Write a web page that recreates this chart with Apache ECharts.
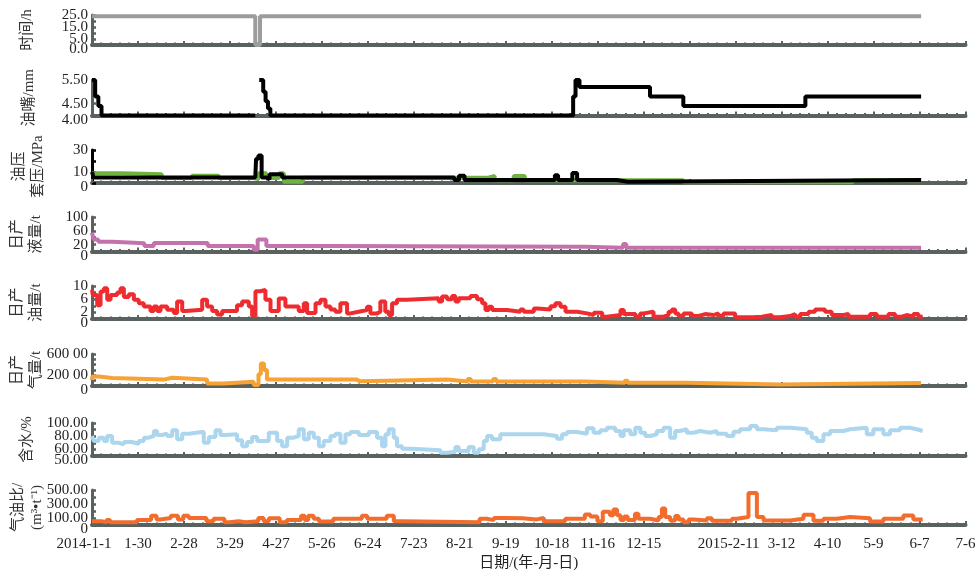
<!DOCTYPE html>
<html><head><meta charset="utf-8">
<script src="https://cdn.jsdelivr.net/npm/echarts@6/dist/echarts.min.js"></script>
<style>html,body{margin:0;padding:0;background:#fff}#c{width:980px;height:572px}</style>
</head><body><div id="c"></div>
<script>
// ---- x axis: day index from 2014-1-1, ticks every 29 days ----
const xTickLabels = ['2014-1-1','1-30','2-28','3-29','4-27','5-26','6-24','7-23','8-21','9-19','10-18','11-16','12-15','','2015-2-11','3-12','4-10','5-9','6-7','7-6'];
const xTitle = '日期/(年-月-日)';

// ---- y tick labels per panel ----
const hoursTicks = [[0,'0.0'],[5,'5.0'],[15,'15.0'],[25,'25.0']];
const chokeTicks = [[4,'4.00'],[4.5,'4.50'],[5.5,'5.50']];
const pressTicks = [[0,'0'],[10,'10'],[30,'30']];
const liquidTicks = [[0,'0'],[20,'20'],[60,'60'],[100,'100']];
const oilTicks = [[0,'0'],[2,'2'],[6,'6'],[10,'10']];
const gasTicks = [[0,'0'],[20000,'200 00'],[60000,'600 00']];
const waterTicks = [[50,'50.00'],[60,'60.00'],[80,'80.00'],[100,'100.00']];
const gorTicks = [[0,'0'],[100,'100.00'],[300,'300.00'],[500,'500.00']];

// ---- series values: [day, value] (step lines) ----
const hours = [[0,24],[103,0],[106,24],[523,24]];
const choke = [[0,5.5],[2,4.8],[4,4.4],[6,4.0],[103,4.0],[103.1,null],[105.5,5.5],[108,5.0],[109.5,4.6],[111,4.3],[112.5,4.0],[303.5,4.8],[305,5.5],[307.5,5.2],[352,4.8],[373,4.4],[450,4.8],[523,4.8]];
const tubingP = [[0,10],[1,5],[103,5],[103.5,22],[105,25],[107,5],[110,3.5],[112,8],[120,5],[228.5,2.7],[231.5,6.5],[235,2.7],[292,7],[294,2.7],[303,9],[306,2.7],[331,1.2],[338,2.7],[523,2.7]];
const casingP = [[0,8.8],[19,7.9],[44,4.5],[63,6.5],[80,4.5],[102,3.5],[105,8.8],[110,4.5],[118,8.8],[121,1.2],[133,4.8],[250,6.4],[254,2.5],[266,6.4],[273,2.5],[373,0.6],[480,2.5],[523,2.5]];
const liquid = [[0,55],[1,35],[4,28],[13,24],[33,16],[39,25],[73,16],[102,5],[104.5,35],[110,16],[150,14],[311,11],[335,22],[337,11],[523,11]];
const oil = [[0,8.8],[0.5,7.3],[3.3,4.2],[5.4,8.3],[7.5,9.3],[9.6,5.8],[11.7,7.3],[15.9,8],[18,9.3],[20.1,6.7],[23.2,7.5],[26.4,5.8],[29.5,4.8],[32.7,3.8],[36.9,2.4],[39,3.8],[41.1,2.4],[43.2,3.8],[47.4,2.8],[51.6,1.8],[53.7,5.3],[56.9,2.4],[59,2.8],[69.5,5.8],[72.6,3.8],[75.8,2.4],[78.9,1.4],[82.1,2.4],[91.5,4.2],[94.7,5.3],[98.9,3.8],[101,0.9],[103.1,8.4],[106.2,8.8],[109.4,5.8],[112.6,2.4],[117.8,6.2],[122,3.8],[130.4,2.4],[133.6,4.8],[135.7,1.8],[141,4.8],[144.1,5.8],[147.3,3.8],
 [150.4,2.9],[153.5,2.2],[156.7,4.75],[160.9,1.7],[163,2.2],[168.2,2.7],[173.5,3.7],[175.6,1.7],[179.8,2.2],[181.9,5.3],[185,2.2],[187.2,1.2],[189.3,4.75],[192.4,5.8],[198.7,6.3],[218.7,5.3],[220.8,6.8],[224,6.0],[227.1,7.0],[229.2,5.3],[231.3,6.3],[238.7,7.0],[242.9,6.0],[246.1,4.75],[248.2,2.7],[250.3,3.7],[252.4,2.7],[261.8,2.2],[270.2,2.9],[272.3,2.2],[278.7,3.2],[280.8,2.9],[289.2,3.9],[292.3,4.75],[295.5,3.7],[298.7,2.2],[306,1.7],[312.3,1.2],[316.5,1.9],[321.8,0.7],[324.9,1.2],[333.4,2.7],[335.5,1.5],[342.8,0.7],
 [345.8,1.7],[347.9,2.2],[354.2,0.7],[360.5,1.2],[363.7,2.2],[365.8,2.9],[367.9,1.7],[370,0.9],[373.1,1.7],[378.4,0.9],[382.6,1.5],[386.8,1.2],[392,1.7],[395.2,0.9],[398.3,1.7],[405.7,0.5],[417.3,0.7],[422.5,1.2],[428.8,0.5],[434.1,0.9],[440.4,1.5],[443.5,0.7],[446.7,1.5],[452,2.2],[456.1,2.9],[462.4,2.2],[466.6,1.2],[474,1.5],[477.2,0.7],[490.8,1.5],[495,0.7],[502.4,1.5],[506.6,0.7],[510.8,1.2],[513.9,0.7],[518.1,1.5],[521.3,0.7],[524,0.7]];
const gas = [[0,11000],[0.2,18000],[4.3,15000],[12.7,12000],[45.3,15500],[50.5,12000],[72.6,4500],[83.1,8000],[102,2000],[105,22000],[106.5,42000],[108.5,30000],[110.4,12000],[167,9000],[169,12000],[224,8500],[237,13000],[239,8500],[253,13000],[255,8500],[311,6000],[336,10000],[338,6000],[375,2800],[434,5600],[523,5600]];
const water = [[0,80.3],[1.2,72.7],[4.3,77.7],[7.5,72.7],[9.6,80.3],[12.7,70.1],[16.9,67.7],[20.1,71.2],[25.3,68.6],[29.5,72.7],[32.7,77.7],[35.8,80.3],[39,87.9],[41.1,81.8],[44.3,83.8],[47.4,80.3],[50.6,88.9],[53.7,75.3],[56.9,83.8],[61.1,86.8],[70.5,70.1],[73.7,78.8],[77.9,88.9],[81,81.8],[84.2,82.9],[91.5,73.8],[94.7,64.9],[97.8,71.2],[101,78.8],[104.2,72.7],[111.5,85.3],[116.8,72.7],[119.9,64.9],[123.1,77.7],[127.3,80.3],[130.4,90.5],[133.6,75.3],[136.7,85.3],[139.9,77.7],[143.1,64.9],[146.2,72.7],
 [150.4,80.3],[153.5,83.8],[156.7,70.1],[159.9,82.9],[163,86.4],[168.3,81.8],[174.6,86.4],[179.8,77.7],[183,64.9],[185.1,82.9],[187.2,90.5],[190.3,77.7],[192.4,64.9],[195.6,61.1],[201.9,58.6],[219.8,55],[224,56.5],[229.2,63.6],[231.3,57.6],[237.6,63.6],[240.8,55],[243.9,60.2],[247.1,72.7],[249.2,80.3],[252.3,75.3],[257.6,82.9],[284.9,80.3],[293.3,76.2],[296.5,82.9],[299.6,86.4],[305.9,83.8],[312.2,92],[316.4,85.3],[320.6,88.9],[324.8,92.9],[330.1,87.9],[333.3,80.3],[335.4,88.9],[339.6,82.9],[342.7,92.9],[345.9,85.3],[349,80.3],
 [352.1,82.9],[356.3,87.9],[360.5,92.9],[364.7,77.7],[367.9,87.9],[371,90.5],[375.2,85.3],[379.4,87.9],[383.6,85.3],[389.9,87.9],[394.1,83.8],[400.4,80.3],[404.6,86.8],[408.8,90.5],[415.2,95.5],[419.4,90.5],[423.6,88.9],[432,92.9],[440.4,90.5],[450.9,85.3],[454,77.7],[457.2,72.7],[461.4,82.9],[465.6,87.9],[474,90.5],[478.2,92.9],[488.7,82.9],[492.9,90.5],[499.2,82.9],[503.4,88.9],[509.7,92.9],[516,90.5],[520.2,87.9],[524,87.9]];
const gor = [[0,55],[5.8,40],[9.2,70],[11.4,40],[28.3,70],[37.3,131],[40.7,80],[43,100],[49.7,131],[54.2,80],[57.6,131],[61,100],[72.2,55],[76.7,90],[83.5,40],[86.9,55],[92.5,40],[97,55],[104.9,100],[108.3,55],[111.6,95],[118.4,40],[122.9,70],[131.9,131],[134.2,70],[136.4,131],[139.8,90],[143.2,50],[152.2,90],[170.2,131],[173.6,90],[185.9,131],[190.4,55],[194.9,40],[244.5,90],[249,70],[253.5,100],[260.3,95],[271.5,80],[280.5,100],[285,55],[298.5,90],[310.9,151],[314.3,121],[318.8,55],[322.2,191],[326.7,141],[328.9,221],[331.2,141],[333.4,70],[335.7,121],[337.9,70],[342.5,161],[344.7,90],
 [352.1,64],[357.4,113],[359.5,235],[361.6,113],[364.7,64],[367.9,127],[370,78],[373.1,39],[376.3,78],[379.4,64],[387.8,98],[391,59],[403.6,88],[406.7,113],[414.1,456],[419.4,113],[423.6,64],[440.4,88],[448.8,147],[455.1,59],[461.4,88],[469.8,113],[478.2,98],[490.8,49],[499.2,88],[511.8,137],[518.1,78],[524,78]];

// ---- layout / styles ----
const AX = '#59625f';
const FONT = "'Liberation Serif','Noto Sans CJK SC',serif";
const panels = [
  {name:'时间/h', gap:55, top:15, h:30, min:0, max:25, iv:5, ticks:hoursTicks, series:[{d:hours,c:'#9c9c9c'}]},
  {name:'油嘴/mm', gap:53, top:80, h:35.5, min:4, max:5.5, iv:0.5, ticks:chokeTicks, series:[{d:choke,c:'#000'}]},
  {name:'油压\n套压/MPa', gap:44, top:150, h:33, min:0, max:30, iv:10, ticks:pressTicks, axc:'#000', series:[{d:casingP,c:'#6db33f'},{d:tubingP,c:'#000'}]},
  {name:'日产\n液量/t', gap:46, top:217, h:34.5, min:0, max:100, iv:20, ticks:liquidTicks, series:[{d:liquid,c:'#c472ad'}]},
  {name:'日产\n油量/t', gap:46, top:286, h:33, min:0, max:10, iv:2, ticks:oilTicks, series:[{d:oil,c:'#ee2b2f'}]},
  {name:'日产\n气量/t', gap:46, top:354, h:32, min:0, max:60000, iv:10000, ticks:gasTicks, series:[{d:gas,c:'#f7a234'}]},
  {name:'含水/%', gap:55, top:423, h:33, min:50, max:100, iv:10, ticks:waterTicks, series:[{d:water,c:'#acd5ee'}]},
  {name:'气油比/\n(m³•t⁻¹)', gap:45, top:490, h:35, min:0, max:500, iv:100, ticks:gorTicks, series:[{d:gor,c:'#f26c2d'}]}
];

const grid=[], xAxis=[], yAxis=[], yAxis2=[], series=[];
const N = panels.length;
panels.forEach((p,i)=>{
  const last = i===N-1;
  grid.push({left:92, right:14.5, top:p.top, height:p.h, containLabel:false, outerBoundsMode:'none'});
  xAxis.push({
    type:'value', gridIndex:i, position:'bottom', min:0, max:551, interval:29,
    axisLine:{onZero:false, lineStyle:{color:AX, width:4}},
    axisTick:{show:true, inside:true, length:4, lineStyle:{color:AX, width:2}},
    minorTick:{show:true, splitNumber:5, length:2.5, lineStyle:{color:AX, width:2}},
    splitLine:{show:false}, minorSplitLine:{show:false},
    axisLabel:{show:last, margin:12, fontFamily:FONT, fontSize:15, color:'#222', hideOverlap:false,
      showMinLabel:true, showMaxLabel:true,
      formatter:v=>{const k=Math.round(v/29); const s=xTickLabels[k]; if(!s) return ''; if(k===0) return '{a|'+s+'}'; if(s.length>6) return '{b|'+s+'}'; return s;},
      rich:{a:{fontFamily:FONT,fontSize:15,color:'#222',padding:[0,16,0,0]}, b:{fontFamily:FONT,fontSize:15,color:'#222',padding:[0,14,0,0]}}},
    name: last?xTitle:'', nameLocation:'middle', nameGap:31, nameMoveOverlap:false,
    nameTextStyle:{fontFamily:FONT, fontSize:15, color:'#222'}
  });
  const tmap = {}; p.ticks.forEach(t=>{tmap[t[0]]=t[1];});
  const keyOf = v=>Math.round(v*1000)/1000;
  const c = p.axc||AX;
  // main axis: line, ticks, labels except the minimum
  yAxis.push({
    type:'value', gridIndex:i, position:'left', offset:0, min:p.min, max:p.max, interval:p.iv,
    axisLine:{show:true, onZero:false, lineStyle:{color:c, width:3}},
    axisTick:{show:true, inside:true, length:4, lineStyle:{color:c, width:2.5}},
    splitLine:{show:false},
    axisLabel:{margin:4, fontFamily:FONT, fontSize:15, color:'#222', hideOverlap:false, showMinLabel:true, showMaxLabel:true,
      formatter:v=>{const k=keyOf(v); if(k===p.min) return ''; const s=tmap[k]; return s===undefined?'':s;}},
    name:p.name, nameLocation:'middle', nameRotate:90, nameGap:p.gap, nameMoveOverlap:false,
    nameTextStyle:{fontFamily:FONT, fontSize:15, color:'#333', lineHeight:19}
  });
  // companion axis (same side) carrying only the slightly lowered minimum label
  yAxis2.push({
    type:'value', gridIndex:i, position:'left', offset:0, min:p.min, max:p.max, interval:p.iv,
    axisLine:{show:false, onZero:false}, axisTick:{show:false}, splitLine:{show:false},
    axisLabel:{margin:4, fontFamily:FONT, fontSize:15, color:'#222', hideOverlap:false, showMinLabel:true, showMaxLabel:false,
      formatter:v=>{const k=keyOf(v); return k===p.min?'{z|'+tmap[k]+'}':'';},
      rich:{z:{fontFamily:FONT,fontSize:15,color:'#222',padding:[9,0,0,0]}}}
  });
  p.series.forEach(s=>{
    series.push({type:'line', xAxisIndex:i, yAxisIndex:i, data:s.d, step:'end', showSymbol:false,
      connectNulls:false, lineStyle:{color:s.c, width:4}, itemStyle:{color:s.c}, silent:true});
  });
});

const chart = echarts.init(document.getElementById('c'), null, {renderer:'canvas'});
chart.setOption({animation:false, backgroundColor:'#fff', grid, xAxis, yAxis:yAxis.concat(yAxis2), series});
</script></body></html>
